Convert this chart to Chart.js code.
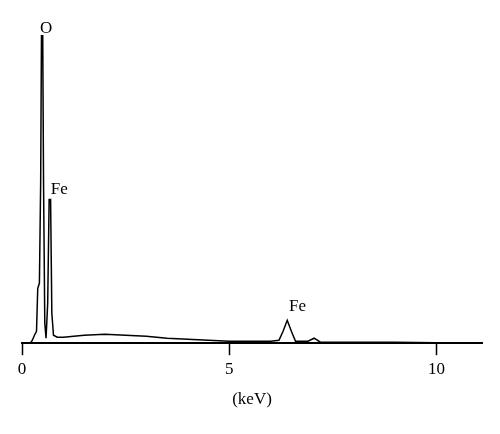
<!DOCTYPE html>
<html><head><meta charset="utf-8">
<script src="https://cdn.jsdelivr.net/npm/chart.js@4/dist/chart.umd.min.js"></script>
<style>body{margin:0;background:#fff}canvas{display:block}</style>
</head><body>
<div style="width:500px;height:434px"><canvas id="c"></canvas></div>
<script>
// spectrum (keV, counts)
const energies = [0.2,0.25,0.3,0.35,0.38,0.42,0.45,0.47,0.5,0.52,0.55,0.58,0.62,0.655,0.69,0.72,0.76,0.85,1.0,1.5,2.0,2.5,3.0,3.5,4.0,4.5,5.0,5.5,6.0,6.2,6.3,6.4,6.5,6.6,6.9,7.05,7.2,8.0,9.0,10.0,11.0,11.1];
const counts   = [0,3,8,12,55,60,160,309,309,160,20,5,40,144,144,30,8,6,6,8,9,8,7,5,4,3,2,2,2,3,12,23,12,2,2,5,1,1,1,0.5,0.5,0];
const tickValues = [0,5,10];
const peakLabels = [{t:'O',x:0.58,y:307},{t:'Fe',x:0.9,y:146},{t:'Fe',x:6.65,y:28}];

const labelPlugin = {
  id: 'peaks',
  afterDatasetsDraw(chart) {
    const {ctx, scales:{x, y}} = chart;
    ctx.save();
    ctx.font = '17px "Liberation Serif"';
    ctx.fillStyle = '#000';
    ctx.textAlign = 'center';
    ctx.textBaseline = 'bottom';
    peakLabels.forEach(p => ctx.fillText(p.t, x.getPixelForValue(p.x), y.getPixelForValue(p.y)));
    ctx.restore();
  }
};

new Chart(document.getElementById('c'), {
  type: 'line',
  data: { datasets: [{
    data: energies.map((e, i) => ({x: e, y: counts[i]})),
    borderColor: '#000', borderWidth: 1.5, pointRadius: 0, tension: 0, fill: false
  }]},
  options: {
    responsive: true, maintainAspectRatio: false, animation: false,
    layout: { padding: { left: 22, right: 18, top: 35, bottom: 20 } },
    plugins: { legend: { display: false }, tooltip: { enabled: false } },
    scales: {
      x: {
        type: 'linear', min: 0, max: 11.1,
        afterBuildTicks: s => { s.ticks = tickValues.map(v => ({value: v})); },
        grid: { drawOnChartArea: false, tickLength: 12, color: '#000', tickWidth: 1.5 },
        border: { color: '#000', width: 2 },
        ticks: { color: '#000', font: { family: 'Liberation Serif', size: 17 }, padding: 4, maxRotation: 0 },
        title: { display: true, text: '(keV)', color: '#000', font: { family: 'Liberation Serif', size: 17 }, padding: { top: 6 } }
      },
      y: { display: false, min: 0, max: 309 }
    }
  },
  plugins: [labelPlugin]
});
</script>
</body></html>
